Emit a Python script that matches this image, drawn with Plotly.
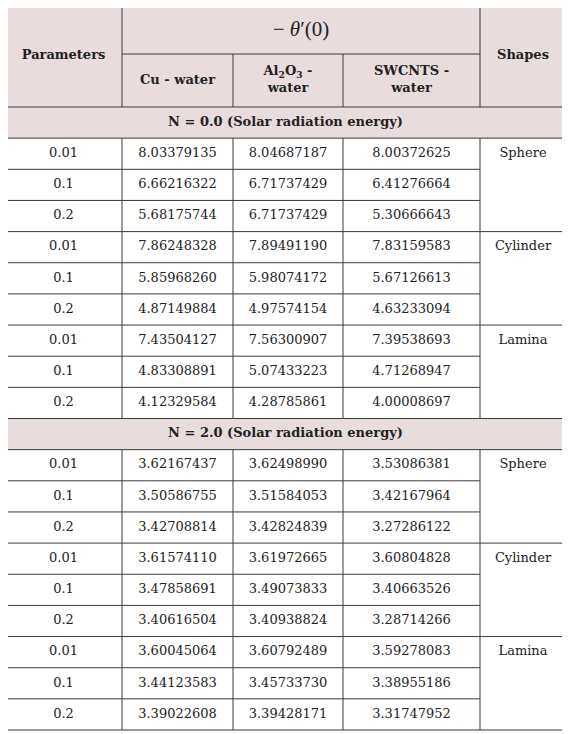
import plotly.graph_objects as go

# Table data
params = ["0.01", "0.1", "0.2"] * 3
shapes_names = ["Sphere", "Cylinder", "Lamina"]
groups = ["N = 0.0 (Solar radiation energy)", "N = 2.0 (Solar radiation energy)"]

cu_n0 = ["8.03379135", "6.66216322", "5.68175744", "7.86248328", "5.85968260",
         "4.87149884", "7.43504127", "4.83308891", "4.12329584"]
al_n0 = ["8.04687187", "6.71737429", "6.71737429", "7.89491190", "5.98074172",
         "4.97574154", "7.56300907", "5.07433223", "4.28785861"]
sw_n0 = ["8.00372625", "6.41276664", "5.30666643", "7.83159583", "5.67126613",
         "4.63233094", "7.39538693", "4.71268947", "4.00008697"]

cu_n2 = ["3.62167437", "3.50586755", "3.42708814", "3.61574110", "3.47858691",
         "3.40616504", "3.60045064", "3.44123583", "3.39022608"]
al_n2 = ["3.62498990", "3.51584053", "3.42824839", "3.61972665", "3.49073833",
         "3.40938824", "3.60792489", "3.45733730", "3.39428171"]
sw_n2 = ["3.53086381", "3.42167964", "3.27286122", "3.60804828", "3.40663526",
         "3.28714266", "3.59278083", "3.38955186", "3.31747952"]

# layout geometry (pixels)
xs = [5, 122, 233, 343, 480, 566]
top, mid, head_bot = 5, 54, 107
rh = 31.15
head_fill = "#e8dcdc"
line_col = "#3a3a3a"
font = "DejaVu Serif"
fs = 13

fig = go.Figure()
shp = []
tx, ty, tt = [], [], []
bx, by, bt = [], [], []

def cx(i):
    return (xs[i] + xs[i + 1]) / 2

def hline(y, x0, x1):
    shp.append(dict(type="line", x0=x0, x1=x1, y0=y, y1=y, line=dict(color=line_col, width=1)))

def vline(x, y0, y1):
    shp.append(dict(type="line", x0=x, x1=x, y0=y0, y1=y1, line=dict(color=line_col, width=1)))

# header
shp.append(dict(type="rect", x0=xs[0], x1=xs[-1], y0=top, y1=head_bot, fillcolor=head_fill,
                line=dict(width=0), layer="below"))
hline(top, xs[0], xs[-1])
hline(mid, xs[1], xs[4])
hline(head_bot, xs[0], xs[-1])
for i in [0, 1, 4, 5]:
    vline(xs[i], top, head_bot)
for i in [2, 3]:
    vline(xs[i], mid, head_bot)
bx += [cx(0), cx(4), cx(1), cx(2), cx(3)]
by += [(top + head_bot) / 2] * 2 + [(mid + head_bot) / 2] * 3
bt += ["Parameters", "Shapes", "Cu - water", "Al<sub>2</sub>O<sub>3</sub> -<br>water", "SWCNTS -<br>water"]

y = head_bot
for g, (cu, al, sw) in zip(groups, [(cu_n0, al_n0, sw_n0), (cu_n2, al_n2, sw_n2)]):
    shp.append(dict(type="rect", x0=xs[0], x1=xs[-1], y0=y, y1=y + rh, fillcolor=head_fill,
                    line=dict(width=0), layer="below"))
    vline(xs[0], y, y + rh)
    vline(xs[-1], y, y + rh)
    bx.append((xs[0] + xs[-1]) / 2)
    by.append(y + rh / 2)
    bt.append(g)
    y += rh
    hline(y, xs[0], xs[-1])
    for k in range(9):
        y0 = y
        y += rh
        for i in range(6):
            vline(xs[i], y0, y)
        vals = [params[k], cu[k], al[k], sw[k]]
        for i, v in enumerate(vals):
            tx.append(cx(i)); ty.append(y0 + rh / 2); tt.append(v)
        if k % 3 == 0:
            tx.append(cx(4)); ty.append(y0 + rh / 2); tt.append(shapes_names[k // 3])
        if k % 3 == 2:
            hline(y, xs[0], xs[-1])
        else:
            hline(y, xs[0], xs[4])

fig.add_trace(go.Scatter(x=tx, y=ty, text=tt, mode="text", textposition="middle center",
                         textfont=dict(family=font, size=fs, color="#222")))
fig.add_trace(go.Scatter(x=bx, y=by, text=bt, mode="text", textposition="middle center",
                         textfont=dict(family=font, size=fs, color="#222", weight="bold")))
fig.add_trace(go.Scatter(x=[(xs[1] + xs[4]) / 2], y=[(top + mid) / 2 + 1],
                         text=["− <i>θ</i>′(0)"], mode="text",
                         textfont=dict(family="Liberation Serif", size=21, color="#222")))

# page body has an 8px margin, so shift the axis ranges to compensate
off = 8
fig.update_layout(
    width=570, height=734, margin=dict(l=0, r=0, t=0, b=0),
    plot_bgcolor="white", paper_bgcolor="white", showlegend=False, shapes=shp,
    xaxis=dict(range=[off, 570 + off], visible=False, fixedrange=True),
    yaxis=dict(range=[734 + off, off], visible=False, fixedrange=True),
)
fig.write_html("out.html")
